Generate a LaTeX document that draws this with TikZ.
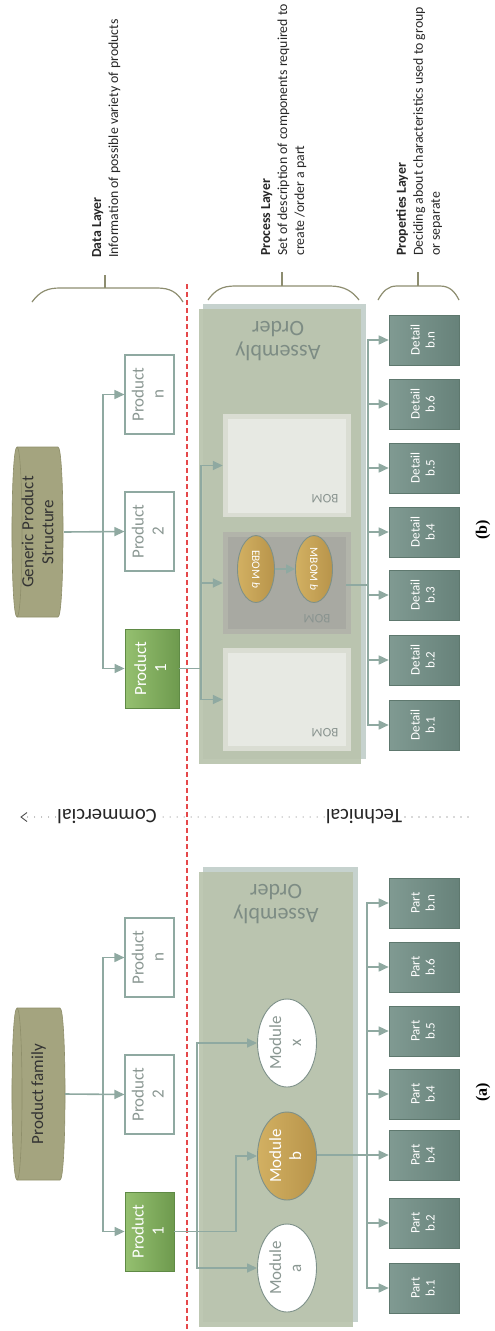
\documentclass[tikz,border=0pt]{standalone}
\usepackage{fontspec}
\setmainfont{Carlito}
\newfontfamily\serifb{Liberation Serif}
\usetikzlibrary{arrows.meta,shapes.geometric}
\definecolor{conn}{HTML}{8FA9A1}
\definecolor{grnl}{HTML}{95C070}
\definecolor{grnr}{HTML}{6E9A4E}
\definecolor{grnd}{HTML}{5F8A45}
\definecolor{detl}{HTML}{809A92}
\definecolor{detr}{HTML}{67827A}
\definecolor{detd}{HTML}{5E786E}
\definecolor{goldl}{HTML}{D2B062}
\definecolor{goldr}{HTML}{B8944A}
\definecolor{goldb}{HTML}{7E918A}
\definecolor{cyl}{HTML}{A4A47F}
\definecolor{cyld}{HTML}{8E8E6A}
\definecolor{asm}{HTML}{B9C3AD}
\definecolor{asmb}{HTML}{C6D2CE}
\definecolor{bomw}{HTML}{E7E9E3}
\definecolor{bomwo}{HTML}{DADDD3}
\definecolor{bomg}{HTML}{A8A9A2}
\definecolor{bomgo}{HTML}{B2B4AA}
\definecolor{bracec}{HTML}{8D8D70}
\definecolor{redd}{HTML}{E5484A}
\definecolor{gtext}{HTML}{8A9792}
\definecolor{asmtext}{HTML}{7D8C84}
\definecolor{bomtext}{HTML}{8A9490}
\newcommand\vt[1]{\rotatebox{90}{\begin{tabular}{@{}c@{}}#1\end{tabular}}}
\begin{document}
\begin{tikzpicture}[x=1pt,y=-1pt,
  line/.style={draw=conn, line width=1.6pt},
  arr/.style={draw=conn, line width=1.6pt, -{Triangle[length=10pt,width=9pt]}},
  prod/.style={draw=conn, fill=white, line width=1.1pt, minimum width=49pt, minimum height=79pt, inner sep=0pt, text=gtext, font=\fontsize{17}{20}\selectfont},
  prodg/.style={draw=grnd, line width=0.8pt, left color=grnl, right color=grnr, minimum width=49pt, minimum height=79pt, inner sep=0pt, text=white, font=\fontsize{17}{20}\selectfont},
  detail/.style={draw=detd, line width=0.6pt, left color=detl, right color=detr, minimum width=70pt, minimum height=50pt, inner sep=0pt, text=white, font=\fontsize{13}{15}\selectfont},
  modw/.style={ellipse, draw=goldb, line width=0.9pt, fill=white, minimum width=59pt, minimum height=88pt, inner sep=0pt, text=gtext, font=\fontsize{17}{20}\selectfont},
  modg/.style={ellipse, draw=goldb, line width=0.9pt, left color=goldl, right color=goldr, minimum width=59pt, minimum height=88pt, inner sep=0pt, text=white, font=\fontsize{17}{20}\selectfont},
  ebom/.style={ellipse, draw=goldb, line width=0.9pt, left color=goldl, right color=goldr, minimum width=37pt, minimum height=67pt, inner sep=0pt, text=white, font=\fontsize{11.5}{13}\selectfont},
  cylbody/.style={fill=cyl, draw=cyld, line width=0.6pt},
  cyltext/.style={rotate=90, align=center, inner sep=0pt, text=black!80, font=\fontsize{17}{20}\selectfont},
  hold/.style={inner sep=0pt, minimum width=53pt, minimum height=170pt},
  layer/.style={rotate=90, anchor=north west, align=left, inner sep=0pt, text=black!85, font=\fontsize{13.8}{17}\selectfont},
  brc/.style={draw=bracec, line width=1.2pt},
  asmt/.style={rotate=180, align=center, inner sep=0pt, text=asmtext, font=\fontsize{22}{24}\selectfont},
  bomlab/.style={rotate=180, inner sep=0pt, text=bomtext, font=\fontsize{13}{15}\selectfont},
  ctext/.style={rotate=180, fill=white, inner sep=1.5pt, text=black!85, font=\fontsize{20.5}{24}\selectfont},
  dots/.style={draw=black!65, line width=1.1pt, dash pattern=on 0pt off 7pt, line cap=round},
  lab/.style={rotate=90, inner sep=0pt, font=\serifb\bfseries\fontsize{16}{18}\selectfont},
  sep/.style={draw=redd, line width=1.2pt, dash pattern=on 5pt off 3pt}
]
\useasboundingbox (0,0) rectangle (495,1331);

% ---------- layer descriptions ----------
\node[layer] (dl) at (92,258) {\textbf{Data Layer}\\Information of possible variety of products};
\node[layer] (pl) at (261,256) {\textbf{Process Layer}\\Set of description of components required to\\create /order a part};
\node[layer] (prl) at (396,256) {\textbf{Properties Layer}\\Deciding about characteristics used to group\\or separate};
\draw[brc] (32,302) .. controls (40,291) and (48,288) .. (60,288) -- (157,288) .. controls (170,288) and (177,292) .. (183,302);
\draw[brc] (105,288) -- (105,275);
\draw[brc] (208,300) .. controls (215,290) and (222,286) .. (235,286) -- (330,286) .. controls (345,286) and (353,292) .. (359,300);
\draw[brc] (282,286) -- (282,272);
\draw[brc] (378,300) .. controls (383,291) and (388,286) .. (397,286) -- (440,286) .. controls (450,286) and (455,292) .. (459,300);
\draw[brc] (418,286) -- (418,272);

% ---------- assembly backgrounds ----------
\fill[asmb] (203,304) rectangle (366,759);
\fill[asm, opacity=0.92] (199,309) rectangle (361,764);
\fill[asmb] (203,867) rectangle (358,1322);
\fill[asm, opacity=0.92] (199,872) rectangle (353,1327);
\node[asmt] (asb) at (278,341) {Assembly\\Order};
\node[asmt] (asa) at (276,904) {Assembly\\Order};

% red separator
\coordinate (st) at (187,284);
\coordinate (sb) at (187,1331);
\draw[sep] (st) -- (sb);

% ---------- (b) ----------
\node[hold] (gps) at (37.5,532) {};
\draw[cylbody] (17,447) -- (58,447) .. controls (64.7,447) and (64.7,617) .. (58,617) -- (17,617) .. controls (10.3,617) and (10.3,447) .. (17,447) -- cycle;
\draw[cyld, line width=0.6pt] (17,447) .. controls (23.7,447) and (23.7,617) .. (17,617);
\node[cyltext] (gpst) at (gps.center) {Generic Product\\Structure};

\node[prod] (pbn) at (149.5,394.5) {\vt{Product\\n}};
\node[prod] (pb2) at (149.5,531.5) {\vt{Product\\2}};
\node[prodg, minimum width=54pt] (pb1) at (152,668.5) {\vt{Product\\1}};

\coordinate (cb) at (103,532);
\draw[arr] (gps.east) -- (pb2.west);
\draw[arr] (cb) |- (pbn.west);
\draw[arr] (cb) |- (pb1.west);

\node[draw=none, fill=bomwo, minimum width=128pt, minimum height=103pt, inner sep=0pt] (bom3) at (287,465.5) {};
\node[draw=none, fill=bomw, minimum width=118pt, minimum height=94pt, inner sep=0pt] (bom3i) at (287,466) {};
\node[draw=none, fill=bomgo, minimum width=128pt, minimum height=102pt, inner sep=0pt] (bom2) at (287,583) {};
\node[draw=none, fill=bomg, minimum width=118pt, minimum height=92pt, inner sep=0pt] (bom2i) at (287,583) {};
\node[draw=none, fill=bomwo, minimum width=128pt, minimum height=103pt, inner sep=0pt] (bom1) at (287,699.5) {};
\node[draw=none, fill=bomw, minimum width=118pt, minimum height=93pt, inner sep=0pt] (bom1i) at (287,699.5) {};
\node[bomlab] (bl3) at (325,499) {BOM};
\node[bomlab] (bl2) at (317,619) {BOM};
\node[bomlab] (bl1) at (325,733) {BOM};

\node[ebom] (eb) at (256,569) {\rotatebox{-90}{EBOM \textit{b}}};
\node[ebom] (mbm) at (314,569) {\rotatebox{-90}{MBOM \textit{b}}};
\draw[draw=conn, line width=1.4pt, -{Triangle[length=9pt,width=9pt]}] (eb.east) -- (mbm.west);

\coordinate (jb) at (201,668.5);
\draw[line] (pb1.east) -- (jb);
\draw[arr] (jb) |- (bom3.west);
\draw[arr] (jb) |- (bom2.west);
\draw[arr] (jb) |- (bom1.west);

\node[detail] (dtn) at (424,340) {\vt{Detail\\b.n}};
\node[detail] (dt6) at (424,404) {\vt{Detail\\b.6}};
\node[detail] (dt5) at (424,468) {\vt{Detail\\b.5}};
\node[detail] (dt4) at (424,532) {\vt{Detail\\b.4}};
\node[detail] (dt3) at (424,595) {\vt{Detail\\b.3}};
\node[detail] (dt2) at (424,660) {\vt{Detail\\b.2}};
\node[detail] (dt1) at (424,725) {\vt{Detail\\b.1}};
\coordinate (jd) at (368,585);
\draw[line] (bom2i.east |- jd) -- (jd);
\foreach \d in {dtn,dt6,dt5,dt4,dt3,dt2,dt1}{\draw[arr] (jd) |- (\d.west);}
\node[lab] (lb) at (483,530) {(b)};

% ---------- commercial / technical ----------
\coordinate (cr) at (468,817);
\coordinate (cl) at (21,817);
\node[ctext] (tech) at (364,817) {Technical};
\node[ctext] (comm) at (107,817) {Commercial};
\draw[dots] (cr) -- (tech);
\draw[dots] (tech) -- (comm);
\draw[dots] (comm) -- (cl);
\draw[draw=black!70, line width=0.9pt] ([xshift=6pt,yshift=-4.5pt]cl) -- (cl) -- ([xshift=6pt,yshift=4.5pt]cl);

% ---------- (a) ----------
\node[hold, minimum height=172pt] (pf) at (38.5,1094) {};
\draw[cylbody] (17,1008) -- (60,1008) .. controls (66.7,1008) and (66.7,1180) .. (60,1180) -- (17,1180) .. controls (10.3,1180) and (10.3,1008) .. (17,1008) -- cycle;
\draw[cyld, line width=0.6pt] (17,1008) .. controls (23.7,1008) and (23.7,1180) .. (17,1180);
\node[cyltext] (pft) at (pf.center) {Product family};

\node[prod] (pan) at (149.5,957.5) {\vt{Product\\n}};
\node[prod] (pa2) at (149.5,1094.5) {\vt{Product\\2}};
\node[prodg] (pa1) at (149.5,1231.5) {\vt{Product\\1}};
\coordinate (ca) at (103,1094);
\draw[arr] (pf.east) -- (pa2.west);
\draw[arr] (ca) |- (pan.west);
\draw[arr] (ca) |- (pa1.west);

\node[modw] (mx) at (287,1043) {\vt{Module\\x}};
\node[modg] (mb) at (287,1156) {\vt{Module\\b}};
\node[modw] (ma) at (287,1268) {\vt{Module\\a}};
\coordinate (ja) at (236,1231.5);
\coordinate (ja2) at (197,1231.5);
\draw[line] (pa1.east) -- (ja);
\draw[arr] (ja) |- (mb.west);
\draw[arr] (ja2) |- (mx.west);
\draw[arr] (ja2) |- (ma.west);

\node[detail] (ptn) at (424,903) {\vt{Part\\b.n}};
\node[detail] (pt6) at (424,967) {\vt{Part\\b.6}};
\node[detail] (pt5) at (424,1031) {\vt{Part\\b.5}};
\node[detail] (pt4) at (424,1094) {\vt{Part\\b.4}};
\node[detail] (pt4b) at (424,1155) {\vt{Part\\b.4}};
\node[detail] (pt2) at (424,1223) {\vt{Part\\b.2}};
\node[detail] (pt1) at (424,1288) {\vt{Part\\b.1}};
\coordinate (jm) at (367,1155);
\draw[line] (mb.east |- jm) -- (jm);
\foreach \p in {ptn,pt6,pt5,pt4,pt4b,pt2,pt1}{\draw[arr] (jm) |- (\p.west);}
\node[lab] (la) at (483,1092) {(a)};
\end{tikzpicture}
\end{document}
